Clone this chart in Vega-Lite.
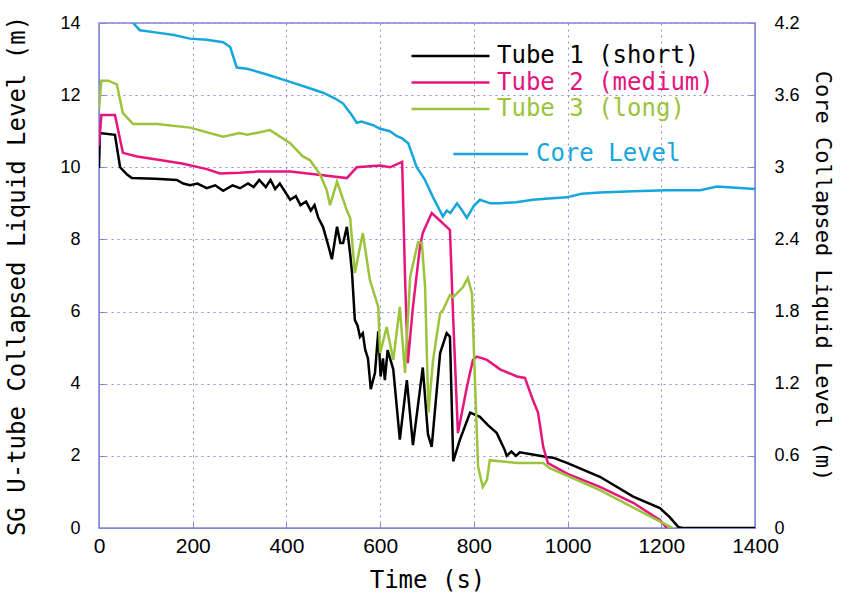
{
  "$schema": "https://vega.github.io/schema/vega-lite/v6.json",
  "width": 656,
  "height": 505,
  "autosize": {"type": "none"},
  "padding": {"left": 99, "top": 23, "right": 97, "bottom": 69},
  "background": "white",
  "config": {
    "view": {"stroke": "#8585d5", "strokeWidth": 1.5},
    "axis": {
      "gridColor": "#8c8cd6", "gridDash": [2, 4], "gridWidth": 1, "gridOpacity": 1,
      "domainColor": "#8585d5", "tickColor": "#8585d5", "tickSize": -6,
      "labelColor": "black", "titleColor": "black", "labelFlush": false,
      "labelFont": "Liberation Sans", "titleFont": "DejaVu Sans Mono", "titleFontWeight": "normal"
    }
  },
  "datasets": {
    "d": [
      {"s": "Tube 1 (short)", "t": 0, "v": 9.98},
      {"s": "Tube 1 (short)", "t": 2, "v": 10.95},
      {"s": "Tube 1 (short)", "t": 34, "v": 10.9},
      {"s": "Tube 1 (short)", "t": 45, "v": 10.0},
      {"s": "Tube 1 (short)", "t": 60, "v": 9.8},
      {"s": "Tube 1 (short)", "t": 70, "v": 9.7},
      {"s": "Tube 1 (short)", "t": 120, "v": 9.68},
      {"s": "Tube 1 (short)", "t": 166, "v": 9.65},
      {"s": "Tube 1 (short)", "t": 180, "v": 9.55},
      {"s": "Tube 1 (short)", "t": 194, "v": 9.5},
      {"s": "Tube 1 (short)", "t": 210, "v": 9.55},
      {"s": "Tube 1 (short)", "t": 230, "v": 9.42},
      {"s": "Tube 1 (short)", "t": 248, "v": 9.5},
      {"s": "Tube 1 (short)", "t": 265, "v": 9.35},
      {"s": "Tube 1 (short)", "t": 285, "v": 9.5},
      {"s": "Tube 1 (short)", "t": 301, "v": 9.42},
      {"s": "Tube 1 (short)", "t": 318, "v": 9.55},
      {"s": "Tube 1 (short)", "t": 330, "v": 9.45},
      {"s": "Tube 1 (short)", "t": 342, "v": 9.65},
      {"s": "Tube 1 (short)", "t": 356, "v": 9.45},
      {"s": "Tube 1 (short)", "t": 366, "v": 9.65},
      {"s": "Tube 1 (short)", "t": 376, "v": 9.4},
      {"s": "Tube 1 (short)", "t": 386, "v": 9.55},
      {"s": "Tube 1 (short)", "t": 398, "v": 9.3},
      {"s": "Tube 1 (short)", "t": 408, "v": 9.1},
      {"s": "Tube 1 (short)", "t": 420, "v": 9.2},
      {"s": "Tube 1 (short)", "t": 430, "v": 8.95},
      {"s": "Tube 1 (short)", "t": 442, "v": 9.05},
      {"s": "Tube 1 (short)", "t": 452, "v": 8.8},
      {"s": "Tube 1 (short)", "t": 460, "v": 8.95},
      {"s": "Tube 1 (short)", "t": 468, "v": 8.6},
      {"s": "Tube 1 (short)", "t": 478, "v": 8.35},
      {"s": "Tube 1 (short)", "t": 490, "v": 7.8},
      {"s": "Tube 1 (short)", "t": 497, "v": 7.45},
      {"s": "Tube 1 (short)", "t": 508, "v": 8.35},
      {"s": "Tube 1 (short)", "t": 515, "v": 7.9},
      {"s": "Tube 1 (short)", "t": 521, "v": 7.9},
      {"s": "Tube 1 (short)", "t": 529, "v": 8.35},
      {"s": "Tube 1 (short)", "t": 536, "v": 7.6},
      {"s": "Tube 1 (short)", "t": 540, "v": 7.07},
      {"s": "Tube 1 (short)", "t": 546, "v": 5.77},
      {"s": "Tube 1 (short)", "t": 552, "v": 5.6},
      {"s": "Tube 1 (short)", "t": 557, "v": 5.3},
      {"s": "Tube 1 (short)", "t": 563, "v": 5.4},
      {"s": "Tube 1 (short)", "t": 568, "v": 4.95},
      {"s": "Tube 1 (short)", "t": 574, "v": 4.7},
      {"s": "Tube 1 (short)", "t": 580, "v": 3.85},
      {"s": "Tube 1 (short)", "t": 589, "v": 4.3},
      {"s": "Tube 1 (short)", "t": 596, "v": 5.45},
      {"s": "Tube 1 (short)", "t": 601, "v": 4.2},
      {"s": "Tube 1 (short)", "t": 606, "v": 4.7},
      {"s": "Tube 1 (short)", "t": 610, "v": 4.1},
      {"s": "Tube 1 (short)", "t": 616, "v": 4.93},
      {"s": "Tube 1 (short)", "t": 628, "v": 4.4},
      {"s": "Tube 1 (short)", "t": 642, "v": 2.45},
      {"s": "Tube 1 (short)", "t": 657, "v": 4.1},
      {"s": "Tube 1 (short)", "t": 670, "v": 2.3},
      {"s": "Tube 1 (short)", "t": 691, "v": 4.45},
      {"s": "Tube 1 (short)", "t": 702, "v": 2.6},
      {"s": "Tube 1 (short)", "t": 710, "v": 2.25},
      {"s": "Tube 1 (short)", "t": 728, "v": 4.85},
      {"s": "Tube 1 (short)", "t": 742, "v": 5.4},
      {"s": "Tube 1 (short)", "t": 749, "v": 5.3},
      {"s": "Tube 1 (short)", "t": 756, "v": 1.85},
      {"s": "Tube 1 (short)", "t": 770, "v": 2.44},
      {"s": "Tube 1 (short)", "t": 792, "v": 3.2},
      {"s": "Tube 1 (short)", "t": 813, "v": 3.08},
      {"s": "Tube 1 (short)", "t": 830, "v": 2.85},
      {"s": "Tube 1 (short)", "t": 849, "v": 2.63},
      {"s": "Tube 1 (short)", "t": 866, "v": 2.16},
      {"s": "Tube 1 (short)", "t": 870, "v": 2.0},
      {"s": "Tube 1 (short)", "t": 880, "v": 2.12},
      {"s": "Tube 1 (short)", "t": 890, "v": 2.0},
      {"s": "Tube 1 (short)", "t": 898, "v": 2.1},
      {"s": "Tube 1 (short)", "t": 956, "v": 1.97},
      {"s": "Tube 1 (short)", "t": 969, "v": 1.95},
      {"s": "Tube 1 (short)", "t": 1000, "v": 1.8},
      {"s": "Tube 1 (short)", "t": 1069, "v": 1.42},
      {"s": "Tube 1 (short)", "t": 1140, "v": 0.87},
      {"s": "Tube 1 (short)", "t": 1197, "v": 0.55},
      {"s": "Tube 1 (short)", "t": 1218, "v": 0.3},
      {"s": "Tube 1 (short)", "t": 1236, "v": 0.03},
      {"s": "Tube 1 (short)", "t": 1245, "v": 0},
      {"s": "Tube 1 (short)", "t": 1400, "v": 0},

      {"s": "Tube 2 (medium)", "t": 0, "v": 10.6},
      {"s": "Tube 2 (medium)", "t": 5, "v": 11.45},
      {"s": "Tube 2 (medium)", "t": 34, "v": 11.45},
      {"s": "Tube 2 (medium)", "t": 51, "v": 10.4},
      {"s": "Tube 2 (medium)", "t": 81, "v": 10.3},
      {"s": "Tube 2 (medium)", "t": 130, "v": 10.2},
      {"s": "Tube 2 (medium)", "t": 180, "v": 10.1},
      {"s": "Tube 2 (medium)", "t": 230, "v": 9.95},
      {"s": "Tube 2 (medium)", "t": 258, "v": 9.83},
      {"s": "Tube 2 (medium)", "t": 300, "v": 9.85},
      {"s": "Tube 2 (medium)", "t": 337, "v": 9.88},
      {"s": "Tube 2 (medium)", "t": 408, "v": 9.88},
      {"s": "Tube 2 (medium)", "t": 478, "v": 9.78},
      {"s": "Tube 2 (medium)", "t": 529, "v": 9.7},
      {"s": "Tube 2 (medium)", "t": 550, "v": 10.0},
      {"s": "Tube 2 (medium)", "t": 600, "v": 10.05},
      {"s": "Tube 2 (medium)", "t": 621, "v": 10.0},
      {"s": "Tube 2 (medium)", "t": 647, "v": 10.15},
      {"s": "Tube 2 (medium)", "t": 653, "v": 7.0},
      {"s": "Tube 2 (medium)", "t": 659, "v": 4.57},
      {"s": "Tube 2 (medium)", "t": 670, "v": 6.13},
      {"s": "Tube 2 (medium)", "t": 685, "v": 7.8},
      {"s": "Tube 2 (medium)", "t": 691, "v": 8.18},
      {"s": "Tube 2 (medium)", "t": 710, "v": 8.73},
      {"s": "Tube 2 (medium)", "t": 721, "v": 8.6},
      {"s": "Tube 2 (medium)", "t": 742, "v": 8.35},
      {"s": "Tube 2 (medium)", "t": 749, "v": 8.26},
      {"s": "Tube 2 (medium)", "t": 756, "v": 5.77},
      {"s": "Tube 2 (medium)", "t": 766, "v": 2.63},
      {"s": "Tube 2 (medium)", "t": 785, "v": 3.9},
      {"s": "Tube 2 (medium)", "t": 798, "v": 4.66},
      {"s": "Tube 2 (medium)", "t": 806, "v": 4.75},
      {"s": "Tube 2 (medium)", "t": 828, "v": 4.66},
      {"s": "Tube 2 (medium)", "t": 856, "v": 4.4},
      {"s": "Tube 2 (medium)", "t": 892, "v": 4.2},
      {"s": "Tube 2 (medium)", "t": 909, "v": 4.16},
      {"s": "Tube 2 (medium)", "t": 926, "v": 3.55},
      {"s": "Tube 2 (medium)", "t": 937, "v": 3.2},
      {"s": "Tube 2 (medium)", "t": 948, "v": 2.25},
      {"s": "Tube 2 (medium)", "t": 958, "v": 1.8},
      {"s": "Tube 2 (medium)", "t": 1000, "v": 1.5},
      {"s": "Tube 2 (medium)", "t": 1069, "v": 1.14},
      {"s": "Tube 2 (medium)", "t": 1140, "v": 0.7},
      {"s": "Tube 2 (medium)", "t": 1197, "v": 0.22},
      {"s": "Tube 2 (medium)", "t": 1212, "v": 0},

      {"s": "Tube 3 (long)", "t": 0, "v": 11.6},
      {"s": "Tube 3 (long)", "t": 5, "v": 12.4},
      {"s": "Tube 3 (long)", "t": 20, "v": 12.4},
      {"s": "Tube 3 (long)", "t": 38, "v": 12.3},
      {"s": "Tube 3 (long)", "t": 51, "v": 11.5},
      {"s": "Tube 3 (long)", "t": 73, "v": 11.2},
      {"s": "Tube 3 (long)", "t": 124, "v": 11.2},
      {"s": "Tube 3 (long)", "t": 194, "v": 11.1},
      {"s": "Tube 3 (long)", "t": 265, "v": 10.85},
      {"s": "Tube 3 (long)", "t": 300, "v": 10.95},
      {"s": "Tube 3 (long)", "t": 316, "v": 10.9},
      {"s": "Tube 3 (long)", "t": 365, "v": 11.03},
      {"s": "Tube 3 (long)", "t": 408, "v": 10.67},
      {"s": "Tube 3 (long)", "t": 435, "v": 10.3},
      {"s": "Tube 3 (long)", "t": 450, "v": 10.2},
      {"s": "Tube 3 (long)", "t": 472, "v": 9.8},
      {"s": "Tube 3 (long)", "t": 486, "v": 9.37},
      {"s": "Tube 3 (long)", "t": 493, "v": 8.95},
      {"s": "Tube 3 (long)", "t": 508, "v": 9.6},
      {"s": "Tube 3 (long)", "t": 529, "v": 8.8},
      {"s": "Tube 3 (long)", "t": 536, "v": 8.6},
      {"s": "Tube 3 (long)", "t": 546, "v": 7.07},
      {"s": "Tube 3 (long)", "t": 563, "v": 8.18},
      {"s": "Tube 3 (long)", "t": 578, "v": 6.88},
      {"s": "Tube 3 (long)", "t": 596, "v": 6.13},
      {"s": "Tube 3 (long)", "t": 600, "v": 4.85},
      {"s": "Tube 3 (long)", "t": 614, "v": 5.57},
      {"s": "Tube 3 (long)", "t": 628, "v": 4.66},
      {"s": "Tube 3 (long)", "t": 642, "v": 6.13},
      {"s": "Tube 3 (long)", "t": 653, "v": 4.3},
      {"s": "Tube 3 (long)", "t": 664, "v": 6.96},
      {"s": "Tube 3 (long)", "t": 681, "v": 7.93},
      {"s": "Tube 3 (long)", "t": 689, "v": 7.9},
      {"s": "Tube 3 (long)", "t": 696, "v": 6.68},
      {"s": "Tube 3 (long)", "t": 703, "v": 3.2},
      {"s": "Tube 3 (long)", "t": 713, "v": 4.66},
      {"s": "Tube 3 (long)", "t": 728, "v": 5.96},
      {"s": "Tube 3 (long)", "t": 734, "v": 6.04},
      {"s": "Tube 3 (long)", "t": 749, "v": 6.46},
      {"s": "Tube 3 (long)", "t": 756, "v": 6.4},
      {"s": "Tube 3 (long)", "t": 777, "v": 6.68},
      {"s": "Tube 3 (long)", "t": 787, "v": 6.93},
      {"s": "Tube 3 (long)", "t": 796, "v": 6.5},
      {"s": "Tube 3 (long)", "t": 802, "v": 4.2},
      {"s": "Tube 3 (long)", "t": 809, "v": 1.7},
      {"s": "Tube 3 (long)", "t": 819, "v": 1.14},
      {"s": "Tube 3 (long)", "t": 828, "v": 1.33},
      {"s": "Tube 3 (long)", "t": 834, "v": 1.88},
      {"s": "Tube 3 (long)", "t": 856, "v": 1.85},
      {"s": "Tube 3 (long)", "t": 892, "v": 1.8},
      {"s": "Tube 3 (long)", "t": 948, "v": 1.8},
      {"s": "Tube 3 (long)", "t": 962, "v": 1.66},
      {"s": "Tube 3 (long)", "t": 1069, "v": 1.05},
      {"s": "Tube 3 (long)", "t": 1203, "v": 0.14},
      {"s": "Tube 3 (long)", "t": 1225, "v": 0},

      {"s": "Core Level", "t": 60, "v": 4.27},
      {"s": "Core Level", "t": 73, "v": 4.2},
      {"s": "Core Level", "t": 87, "v": 4.14},
      {"s": "Core Level", "t": 124, "v": 4.12},
      {"s": "Core Level", "t": 160, "v": 4.1},
      {"s": "Core Level", "t": 194, "v": 4.07},
      {"s": "Core Level", "t": 230, "v": 4.06},
      {"s": "Core Level", "t": 265, "v": 4.04},
      {"s": "Core Level", "t": 280, "v": 4.0},
      {"s": "Core Level", "t": 294, "v": 3.83},
      {"s": "Core Level", "t": 316, "v": 3.82},
      {"s": "Core Level", "t": 360, "v": 3.77},
      {"s": "Core Level", "t": 408, "v": 3.71},
      {"s": "Core Level", "t": 440, "v": 3.67},
      {"s": "Core Level", "t": 478, "v": 3.62},
      {"s": "Core Level", "t": 505, "v": 3.57},
      {"s": "Core Level", "t": 521, "v": 3.53},
      {"s": "Core Level", "t": 540, "v": 3.43},
      {"s": "Core Level", "t": 550, "v": 3.37},
      {"s": "Core Level", "t": 560, "v": 3.38},
      {"s": "Core Level", "t": 585, "v": 3.35},
      {"s": "Core Level", "t": 600, "v": 3.32},
      {"s": "Core Level", "t": 621, "v": 3.3},
      {"s": "Core Level", "t": 635, "v": 3.26},
      {"s": "Core Level", "t": 647, "v": 3.24},
      {"s": "Core Level", "t": 660, "v": 3.2},
      {"s": "Core Level", "t": 678, "v": 3.0},
      {"s": "Core Level", "t": 695, "v": 2.9},
      {"s": "Core Level", "t": 713, "v": 2.75},
      {"s": "Core Level", "t": 734, "v": 2.59},
      {"s": "Core Level", "t": 742, "v": 2.64},
      {"s": "Core Level", "t": 750, "v": 2.62},
      {"s": "Core Level", "t": 764, "v": 2.7},
      {"s": "Core Level", "t": 775, "v": 2.64},
      {"s": "Core Level", "t": 785, "v": 2.58},
      {"s": "Core Level", "t": 800, "v": 2.68},
      {"s": "Core Level", "t": 813, "v": 2.73},
      {"s": "Core Level", "t": 835, "v": 2.7},
      {"s": "Core Level", "t": 856, "v": 2.7},
      {"s": "Core Level", "t": 890, "v": 2.71},
      {"s": "Core Level", "t": 926, "v": 2.73},
      {"s": "Core Level", "t": 960, "v": 2.74},
      {"s": "Core Level", "t": 998, "v": 2.75},
      {"s": "Core Level", "t": 1030, "v": 2.78},
      {"s": "Core Level", "t": 1069, "v": 2.79},
      {"s": "Core Level", "t": 1140, "v": 2.8},
      {"s": "Core Level", "t": 1212, "v": 2.81},
      {"s": "Core Level", "t": 1283, "v": 2.81},
      {"s": "Core Level", "t": 1319, "v": 2.84},
      {"s": "Core Level", "t": 1400, "v": 2.82}
    ]
  },
  "data": {"name": "d"},
  "layer": [
    {
      "transform": [{"filter": "datum.s != 'Core Level'"}],
      "mark": {"type": "line", "strokeWidth": 2.5, "clip": true},
      "encoding": {
        "x": {
          "field": "t", "type": "quantitative",
          "scale": {"domain": [0, 1400], "nice": false},
          "axis": {
            "values": [0, 200, 400, 600, 800, 1000, 1200, 1400],
            "format": "d",
            "title": "Time (s)", "labelFontSize": 21, "titleFontSize": 24,
            "labelPadding": 13, "titlePadding": 12, "grid": true
          }
        },
        "y": {
          "field": "v", "type": "quantitative",
          "scale": {"domain": [0, 14], "nice": false},
          "axis": {
            "values": [0, 2, 4, 6, 8, 10, 12, 14],
            "title": "SG U-tube Collapsed Liquid Level (m)",
            "labelFontSize": 18, "titleFontSize": 24,
            "labelPadding": 25, "titlePadding": 30, "grid": true
          }
        },
        "color": {
          "field": "s", "type": "nominal",
          "scale": {
            "domain": ["Tube 1 (short)", "Tube 2 (medium)", "Tube 3 (long)"],
            "range": ["#000000", "#e6157e", "#9bc43a"]
          },
          "legend": {
            "orient": "none", "legendX": 372, "legendY": 21, "title": null,
            "symbolType": "M-11,0H1", "symbolSize": 169, "symbolStrokeWidth": 2.5,
            "labelFont": "DejaVu Sans Mono", "labelFontSize": 24, "labelOffset": 2,
            "labelLimit": 400, "rowPadding": 2.5, "padding": 0,
            "labelColor": {"expr": "datum.value == 'Tube 1 (short)' ? '#000000' : datum.value == 'Tube 2 (medium)' ? '#e6157e' : '#9bc43a'"}
          }
        }
      }
    },
    {
      "transform": [{"filter": "datum.s == 'Core Level'"}],
      "mark": {"type": "line", "strokeWidth": 2.5, "clip": true},
      "encoding": {
        "x": {"field": "t", "type": "quantitative"},
        "y": {
          "field": "v", "type": "quantitative",
          "scale": {"domain": [0, 4.2], "nice": false},
          "axis": {
            "orient": "right",
            "values": [0, 0.6, 1.2, 1.8, 2.4, 3, 3.6, 4.2],
            "labelExpr": "'' + datum.value",
            "title": "Core Collapsed Liquid Level (m)",
            "labelFontSize": 18, "titleFontSize": 22,
            "labelPadding": 25, "titlePadding": 11, "grid": false
          }
        },
        "color": {
          "field": "s", "type": "nominal",
          "scale": {"domain": ["Core Level"], "range": ["#17a6dc"]},
          "legend": {
            "orient": "none", "legendX": 411, "legendY": 119, "title": null,
            "symbolType": "M-11,0H1", "symbolSize": 156, "symbolStrokeWidth": 2.5,
            "labelFont": "DejaVu Sans Mono", "labelFontSize": 24, "labelOffset": 2,
            "labelLimit": 400, "padding": 0, "labelColor": "#17a6dc"
          }
        }
      }
    }
  ],
  "resolve": {"scale": {"y": "independent", "color": "independent"}}
}
